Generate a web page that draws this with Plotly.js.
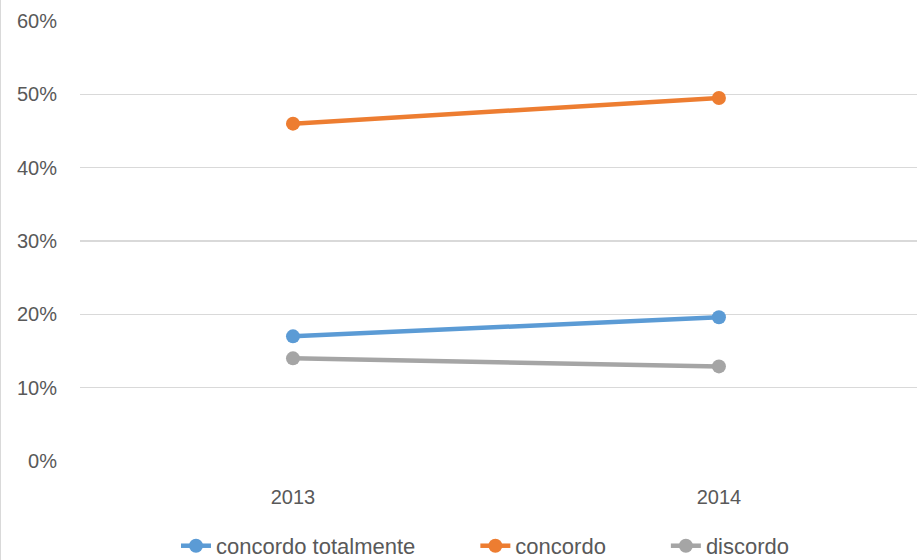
<!DOCTYPE html>
<html>
<head>
<meta charset="utf-8">
<script src="https://cdn.plot.ly/plotly-3.0.1.min.js"></script>
<style>
html,body{margin:0;padding:0;background:#fff;}
#chart{width:916px;height:560px;border-left:1px solid #d9d9d9;}
</style>
</head>
<body>
<div id="chart"></div>
<script>
const years = ['2013', '2014'];
const seriesNames = ['concordo totalmente', 'concordo', 'discordo'];
const concordoTotalmente = [0.170, 0.196];
const concordo = [0.460, 0.495];
const discordo = [0.140, 0.129];
const yTickVals = [0, 0.1, 0.2, 0.3, 0.4, 0.5, 0.6];
const yTickText = ['0%', '10%', '20%', '30%', '40%', '50%', '60%'];

const colors = ['#5B9BD5', '#ED7D31', '#A5A5A5'];
const values = [concordoTotalmente, concordo, discordo];
const FONT = 'Liberation Sans, Arial, sans-serif';
const PAD = '\u00a0'.repeat(9);

const traces = values.map((v, i) => ({
  x: [0, 1],
  y: v,
  name: seriesNames[i] + (i < values.length - 1 ? PAD : ''),
  type: 'scatter',
  mode: 'lines+markers',
  line: {color: colors[i], width: 4.5},
  marker: {color: colors[i], size: 14},
  hoverinfo: 'skip'
}));

const layout = {
  width: 916,
  height: 560,
  margin: {l: 79, r: 0, t: 21, b: 99, autoexpand: false},
  paper_bgcolor: '#fff',
  plot_bgcolor: '#fff',
  font: {family: FONT, color: '#595959', size: 19},
  showlegend: true,
  legend: {
    orientation: 'h',
    x: 0.1147, xanchor: 'left',
    y: -0.193, yanchor: 'middle',
    font: {family: FONT, size: 22, color: '#595959'},
    itemwidth: 30,
    traceorder: 'normal'
  },
  xaxis: {
    range: [-0.5, 1.465],
    tickvals: [0, 1],
    ticktext: years,
    showgrid: false,
    zeroline: false,
    showline: false,
    ticks: '',
    ticklabelstandoff: 22,
    tickfont: {size: 20, color: '#595959'},
    fixedrange: true
  },
  yaxis: {
    range: [0, 0.6],
    tickvals: yTickVals,
    ticktext: yTickText,
    showgrid: true,
    gridcolor: '#d9d9d9',
    gridwidth: 1.3,
    zeroline: false,
    showline: false,
    ticks: '',
    ticklabelstandoff: 22,
    tickfont: {size: 20, color: '#595959'},
    fixedrange: true
  }
};

Plotly.newPlot('chart', traces, layout, {displayModeBar: false, staticPlot: true});
</script>
</body>
</html>
